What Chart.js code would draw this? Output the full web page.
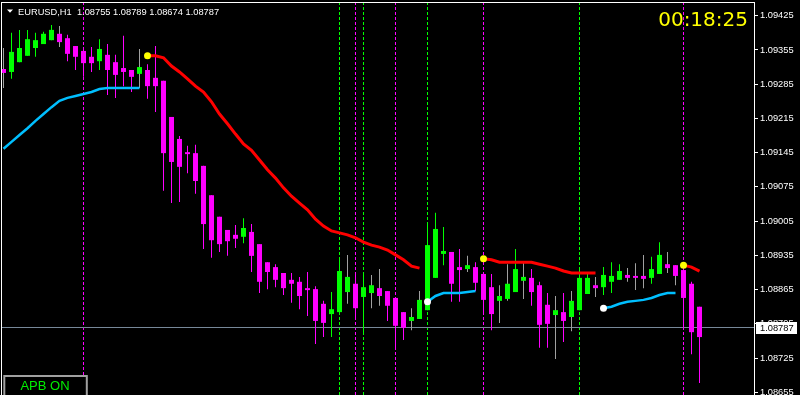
<!DOCTYPE html>
<html><head><meta charset="utf-8">
<script src="https://cdn.jsdelivr.net/npm/chart.js@4.4.1/dist/chart.umd.min.js"></script>
<style>html,body{margin:0;padding:0;background:#000;overflow:hidden}#wrap{width:800px;height:395px;position:relative}</style>
</head><body><div id="wrap"><canvas id="c"></canvas></div>
<script>
// ---------- data ----------
const symbol = "EURUSD,H1";
const quote = [1.08755, 1.08789, 1.08674, 1.08787]; // open high low close of current bar
const timer = "00:18:25";
const modeLabel = "APB ON";
const priceTicks = [1.09425,1.09355,1.09285,1.09215,1.09145,1.09075,1.09005,1.08935,1.08865,1.08795,1.08725,1.08655];

const open = [1.09316,1.09310,1.09330,1.09343,1.09359,1.09367,1.09375,1.09388,1.09379,1.09363,
1.09353,1.09341,1.09332,1.09345,1.09330,1.09318,1.09314,1.09306,1.09314,1.09298,
1.09292,1.09218,1.09173,1.09146,1.09144,1.09118,1.09058,1.09014,1.08987,1.08977,
1.08973,1.08983,1.08958,1.08921,1.08911,1.08899,1.08885,1.08881,1.08868,1.08866,
1.08836,1.08815,1.08819,1.08860,1.08877,1.08850,1.08858,1.08868,1.08862,1.08848,
1.08819,1.08801,1.08805,1.08823,1.08889,1.08938,1.08942,1.08911,1.08907,1.08911,
1.08897,1.08870,1.08842,1.08846,1.08860,1.08883,1.08889,1.08874,1.08834,1.08813,
1.08819,1.08809,1.08823,1.08856,1.08874,1.08870,1.08881,1.08885,1.08895,1.08893,
1.08893,1.08889,1.08897,1.08917,1.08915,1.08905,1.08877,1.08830];
const high = [1.09359,1.09390,1.09396,1.09396,1.09390,1.09392,1.09406,1.09404,1.09386,1.09363,
1.09361,1.09361,1.09377,1.09367,1.09345,1.09384,1.09314,1.09357,1.09326,1.09363,
1.09292,1.09218,1.09179,1.09159,1.09161,1.09118,1.09058,1.09014,1.08987,1.08997,
1.09011,1.08999,1.08958,1.08921,1.08917,1.08899,1.08899,1.08891,1.08901,1.08872,
1.08842,1.08860,1.08926,1.08936,1.08895,1.08899,1.08895,1.08907,1.08862,1.08848,
1.08819,1.08827,1.08862,1.08999,1.09022,1.08993,1.08942,1.08948,1.08934,1.08921,
1.08897,1.08897,1.08874,1.08917,1.08948,1.08921,1.08907,1.08881,1.08858,1.08852,
1.08858,1.08862,1.08907,1.08897,1.08891,1.08911,1.08921,1.08917,1.08909,1.08919,
1.08936,1.08932,1.08962,1.08942,1.08915,1.08921,1.08881,1.08830];
const low = [1.09277,1.09296,1.09330,1.09343,1.09341,1.09367,1.09375,1.09361,1.09332,1.09314,
1.09300,1.09310,1.09314,1.09263,1.09257,1.09281,1.09269,1.09277,1.09255,1.09228,
1.09067,1.09042,1.09044,1.09103,1.09061,1.08948,1.08930,1.08942,1.08934,1.08950,
1.08960,1.08901,1.08858,1.08866,1.08870,1.08854,1.08838,1.08825,1.08811,1.08754,
1.08768,1.08768,1.08819,1.08836,1.08807,1.08772,1.08827,1.08832,1.08801,1.08746,
1.08762,1.08782,1.08805,1.08823,1.08889,1.08915,1.08840,1.08840,1.08901,1.08862,
1.08817,1.08782,1.08797,1.08842,1.08860,1.08846,1.08832,1.08746,1.08746,1.08723,
1.08758,1.08780,1.08823,1.08856,1.08850,1.08854,1.08858,1.08885,1.08881,1.08864,
1.08868,1.08877,1.08897,1.08899,1.08874,1.08785,1.08733,1.08674];
const close = [1.09308,1.09351,1.09359,1.09377,1.09375,1.09388,1.09396,1.09371,1.09347,1.09341,
1.09328,1.09328,1.09357,1.09314,1.09304,1.09310,1.09300,1.09320,1.09281,1.09281,
1.09144,1.09126,1.09116,1.09142,1.09087,1.08999,1.08966,1.08958,1.08964,1.08969,
1.08991,1.08934,1.08881,1.08901,1.08885,1.08868,1.08877,1.08852,1.08864,1.08801,
1.08797,1.08825,1.08903,1.08891,1.08827,1.08870,1.08874,1.08852,1.08832,1.08791,
1.08787,1.08809,1.08844,1.08956,1.08989,1.08944,1.08877,1.08905,1.08915,1.08879,
1.08844,1.08815,1.08852,1.08877,1.08907,1.08891,1.08860,1.08793,1.08795,1.08823,
1.08801,1.08842,1.08889,1.08889,1.08868,1.08895,1.08893,1.08903,1.08889,1.08889,
1.08887,1.08907,1.08936,1.08909,1.08893,1.08848,1.08778,1.08768];
// bars whose real-candle wick shows through in neutral colour
const neutralWickBars = [0,7,17,43,46,47,51,52,58,62,63,65,69,71,74,78,79,80,83,84];

const N = null;
const bullLine = [1.09153,1.09167,1.09181,1.09195,1.09210,1.09224,1.09238,1.09251,1.09257,1.09261,
1.09265,1.09269,1.09275,1.09277,1.09277,1.09277,1.09277,1.09277,N,N,
N,N,N,N,N,N,N,N,N,N, N,N,N,N,N,N,N,N,N,N, N,N,N,N,N,N,N,N,N,N,
N,N,N,1.08840,1.08852,1.08858,1.08858,1.08858,1.08860,1.08862,
N,N,N,N,N,N,N,N,N,N, N,N,N,N,N,
1.08827,1.08830,1.08836,1.08840,1.08842,1.08844,1.08848,1.08854,1.08858,1.08858,
N,N,N];
const bearLine = [N,N,N,N,N,N,N,N,N,N, N,N,N,N,N,N,N,N,
1.09343,1.09343,1.09339,1.09322,1.09310,1.09296,1.09281,1.09269,1.09249,1.09224,
1.09204,1.09183,1.09163,1.09150,1.09130,1.09110,1.09093,1.09073,1.09056,1.09042,
1.09028,1.09009,1.08995,1.08985,1.08981,1.08977,1.08971,1.08962,1.08956,1.08952,
1.08946,1.08936,1.08926,1.08913,1.08909,
N,N,N,N,N,N,N,
1.08928,1.08926,1.08921,1.08921,1.08921,1.08921,1.08921,1.08917,1.08913,1.08909,
1.08903,1.08899,1.08899,1.08899,1.08899,
N,N,N,N,N,N,N,N,N,N,
1.08915,1.08911,1.08903];
const buyMarks = [42,45,53,72];
const sellMarks = [10,44,49,60,85];

// ---------- styling ----------
const GREEN = '#00ff00', MAG = '#ff00ff', GREY = '#a0a0a0';
const idx = open.map((_, i) => i);
const bodyColor = idx.map(i => close[i] >= open[i] ? GREEN : MAG);
const wickColor = idx.map(i => neutralWickBars.includes(i) ? GREY : bodyColor[i]);

function segDot(color) {
  return {
    pointRadius: ctx => {
      const d = ctx.dataset.data, i = ctx.dataIndex;
      return (i > 0 && d[i].y != null && d[i - 1].y == null) ? 3.5 : 0;
    },
    pointBackgroundColor: color, pointBorderWidth: 0
  };
}

const overlay = {
  id: 'overlay',
  beforeDatasetsDraw(chart) {
    const c = chart.ctx, a = chart.chartArea, xs = chart.scales.x, ys = chart.scales.y;
    c.save();
    c.beginPath(); c.rect(a.left, a.top, a.right - a.left, a.bottom - a.top); c.clip();
    c.lineWidth = 1; c.setLineDash([3, 2]);
    const mark = (k, col) => {
      const x = Math.round(xs.getPixelForValue(k) - 0.5) + 0.5;
      c.strokeStyle = col; c.beginPath(); c.moveTo(x, a.top); c.lineTo(x, a.bottom); c.stroke();
    };
    buyMarks.forEach(k => mark(k, GREEN));
    sellMarks.forEach(k => mark(k, MAG));
    c.setLineDash([]);
    const y = Math.round(ys.getPixelForValue(quote[3]) - 0.5) + 0.5;
    c.strokeStyle = '#778899'; c.beginPath(); c.moveTo(a.left, y); c.lineTo(a.right, y); c.stroke();
    c.restore();
  },
  afterDraw(chart) {
    const c = chart.ctx, a = chart.chartArea, ys = chart.scales.y;
    c.save();
    // frame
    c.fillStyle = '#ffffff';
    c.fillRect(1, 2, 754, 1);
    c.fillRect(1, 2, 1, 393);
    c.fillRect(754, 2, 1, 393);
    // bid label
    const y = ys.getPixelForValue(quote[3]);
    c.fillStyle = '#ffffff';
    c.fillRect(756, Math.round(y) - 6, 41, 12);
    c.fillStyle = '#000000';
    c.font = '9.3px "Liberation Sans", Arial, sans-serif';
    c.textBaseline = 'middle'; c.textAlign = 'left';
    c.fillText(quote[3].toFixed(5), 760, y + 0.5);
    // title
    c.fillStyle = '#ffffff';
    c.beginPath(); c.moveTo(7, 9.5); c.lineTo(13, 9.5); c.lineTo(10, 12.8); c.closePath(); c.fill();
    c.textBaseline = 'alphabetic';
    c.fillText(symbol + '  ' + quote.map(v => v.toFixed(5)).join(' '), 18, 14.5);
    // timer
    c.fillStyle = '#ffff00';
    c.font = '20px "DejaVu Sans", sans-serif';
    c.textAlign = 'right';
    c.fillText(timer, 748, 26);
    // mode box
    c.fillStyle = '#000000'; c.fillRect(4, 376, 83, 20);
    c.strokeStyle = '#a0a0a0'; c.lineWidth = 2; c.strokeRect(4.3, 376, 82.5, 22);
    c.fillStyle = '#00ee00';
    c.font = '13px "Liberation Sans", Arial, sans-serif';
    c.textAlign = 'center';
    c.fillText(modeLabel, 45, 390);
    c.restore();
  }
};

new Chart(document.getElementById('c'), {
  type: 'bar',
  data: {
    datasets: [
      Object.assign({ type: 'line', data: bullLine.map((v, i) => ({ x: i, y: v })), borderColor: '#00bfff',
        borderWidth: 2.5, tension: 0, spanGaps: false, order: 0 }, segDot('#ffffff')),
      Object.assign({ type: 'line', data: bearLine.map((v, i) => ({ x: i, y: v })), borderColor: '#ff0000',
        borderWidth: 3, tension: 0, spanGaps: false, order: 0 }, segDot('#ffff00')),
      { type: 'bar', data: idx.map(i => ({ x: i, y: [Math.min(open[i], close[i]), Math.max(open[i], close[i])] })),
        backgroundColor: bodyColor, barThickness: 5, minBarLength: 1, grouped: false, borderWidth: 0,
        inflateAmount: 0, order: 1 },
      { type: 'bar', data: idx.map(i => ({ x: i, y: [low[i], high[i]] })),
        backgroundColor: wickColor, barThickness: 1, minBarLength: 1, grouped: false, borderWidth: 0,
        inflateAmount: 0, order: 2 }
    ]
  },
  options: {
    responsive: true, maintainAspectRatio: false, animation: false, events: [],
    layout: { padding: { left: 2, top: 2, right: 0, bottom: 0 } },
    plugins: { legend: { display: false }, tooltip: { enabled: false } },
    scales: {
      x: { type: 'linear', min: -0.1875, max: 93.8125, offset: false, display: false },
      y: {
        position: 'right', min: 1.0864956, max: 1.0945301,
        afterBuildTicks: s => { s.ticks = priceTicks.map(v => ({ value: v })); },
        afterFit: s => { s.width = 46; s.paddingTop = 0; s.paddingBottom = 0; },
        grid: { drawOnChartArea: false, drawTicks: true, tickLength: 4, tickColor: '#ffffff' },
        border: { display: false },
        ticks: { color: '#ffffff', autoSkip: false, padding: 2,
          font: { family: '"Liberation Sans", Arial, sans-serif', size: 9.3 },
          callback: v => Number(v).toFixed(5) }
      }
    }
  },
  plugins: [overlay]
});
</script></body></html>
